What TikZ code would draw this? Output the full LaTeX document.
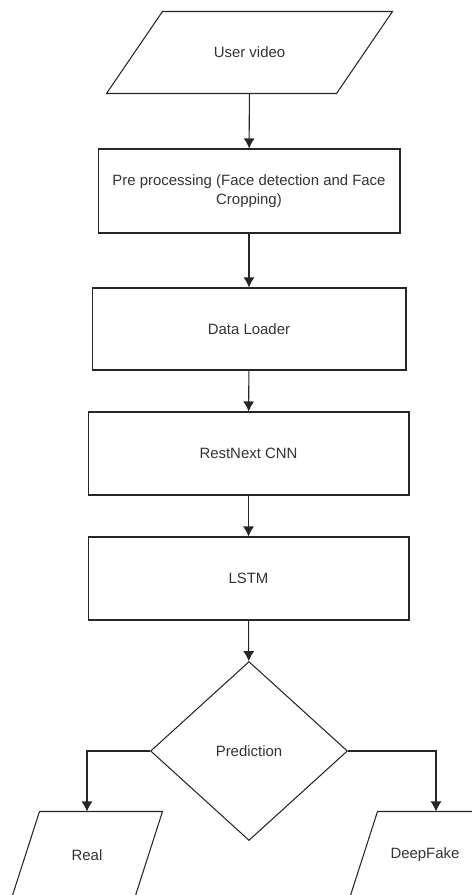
\documentclass[tikz,border=0pt]{standalone}
\usepackage{fontspec}
\setmainfont{Liberation Sans}
\usetikzlibrary{arrows.meta,shapes.geometric}
\tikzset{>={Latex[length=2mm,width=2.2mm]}}

\begin{document}
\begin{tikzpicture}[x=0.02cm,y=-0.02cm,
    line/.style={draw=black!85,line width=0.6pt}]
\useasboundingbox (0,0) rectangle (472,895);
\clip (0,0) rectangle (472,895);
\begin{scope}[every node/.style={line,text=black!80,
    font=\fontsize{8.5}{10.8}\selectfont,align=center,inner sep=2pt}]
\node (vid) at (249.5,52.5) [rectangle,draw=none,minimum width=4.58cm,minimum height=1.62cm] {User video};
\node (pre) at (249,191) [rectangle,minimum width=6.04cm,minimum height=1.68cm]
    {Pre processing (Face detection and Face\\Cropping)};
\node (load) at (249,329) [rectangle,minimum width=6.28cm,minimum height=1.64cm] {Data Loader};
\node (cnn) at (248.5,453.5) [rectangle,minimum width=6.42cm,minimum height=1.66cm] {RestNext CNN};
\node (lstm) at (248.5,578.5) [rectangle,minimum width=6.42cm,minimum height=1.66cm] {LSTM};
\node (pred) at (249,751) [diamond,minimum width=3.94cm,minimum height=3.58cm] {Prediction};
\node (real) at (87,855) [rectangle,draw=none,minimum width=2.44cm,minimum height=1.72cm] {Real};
\node (fake) at (425,855) [rectangle,draw=none,minimum width=2.44cm,minimum height=1.72cm] {DeepFake};
\end{scope}
% parallelogram outlines
\draw [line] ([xshift=-0.56cm]vid.south west) -- ([xshift=-0.56cm]vid.south east)
    -- ([xshift=0.56cm]vid.north east) -- ([xshift=0.56cm]vid.north west) -- cycle;
\foreach \n in {real,fake}
    \draw [line] ([xshift=-0.28cm]\n.south west) -- ([xshift=-0.28cm]\n.south east)
        -- ([xshift=0.28cm]\n.north east) -- ([xshift=0.28cm]\n.north west) -- cycle;
\begin{scope}[every path/.style={line}]
    \path [->] (vid) edge (pre);
    \path [->] (pre) edge (load);
    \path [->] (load) edge (cnn);
    \path [->] (cnn) edge (lstm);
    \path [->] (lstm) edge (pred);
    % branches
    \draw [->] (pred.west) -| (real.north);
    \draw [->] (pred.east) -| ([xshift=0.22cm]fake.north);
\end{scope}
\end{tikzpicture}
\end{document}
